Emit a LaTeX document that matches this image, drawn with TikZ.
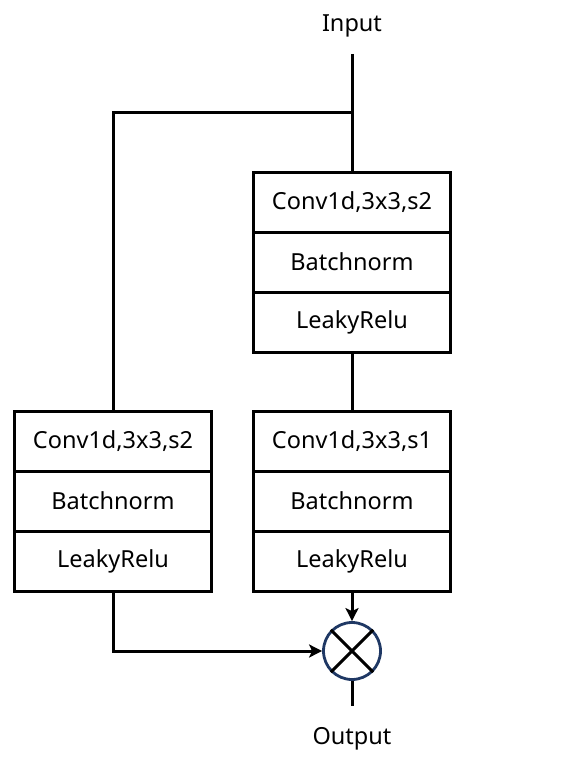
\documentclass[tikz,border=0pt]{standalone}
\usepackage{fontspec}
\setmainfont{Noto Sans}
\usetikzlibrary{arrows.meta}
\definecolor{navy}{HTML}{1F3864}
\begin{document}
\begin{tikzpicture}[x=1bp,y=-1bp,
  line width=3bp,
  cell/.style={draw=black,line width=3bp,minimum width=197bp,minimum height=60bp,inner sep=0pt,font=\fontsize{23.5bp}{28bp}\selectfont},
  lbl/.style={font=\fontsize{23.5bp}{28bp}\selectfont,inner sep=0pt},
  arr/.style={-{Stealth[length=13bp,width=13bp,inset=3bp]},line width=3bp}]
\useasboundingbox (0,0) rectangle (586,759);
% labels
\node[lbl] (in) at (352,26) {Input};
\node[lbl] (out) at (352,739) {Output};
\coordinate (intop) at (352,54);
\coordinate (split) at (352,112);
\coordinate (lcorner) at (113,112);
% right top block
\node[cell] (r1a) at (352,202) {Conv1d,3x3,s2};
\node[cell] (r1b) at (352,262) {Batchnorm};
\node[cell] (r1c) at (352,322) {LeakyRelu};
% right bottom block
\node[cell] (r2a) at (352,441) {Conv1d,3x3,s1};
\node[cell] (r2b) at (352,501) {Batchnorm};
\node[cell] (r2c) at (352,561) {LeakyRelu};
% left block
\node[cell] (la) at (113,441) {Conv1d,3x3,s2};
\node[cell] (lb) at (113,501) {Batchnorm};
\node[cell] (lc) at (113,561) {LeakyRelu};
% circle
\node[circle,draw=navy,line width=2.8bp,minimum size=57bp,inner sep=0pt] (mul) at (352,651) {};
\draw[line width=3bp] (mul.north west) -- (mul.south east) (mul.north east) -- (mul.south west);
\coordinate (lbend) at (113,651);
\coordinate (outend) at (352,706);
% connectors
\draw (intop) -- (r1a.north);
\draw (split) -- (lcorner) -- (la.north);
\draw (r1c.south) -- (r2a.north);
\draw[arr] (r2c.south) -- (mul.north);
\draw[arr] (lc.south) -- (lbend) -- (mul.west);
\draw (mul.south) -- (outend);
\end{tikzpicture}
\end{document}
